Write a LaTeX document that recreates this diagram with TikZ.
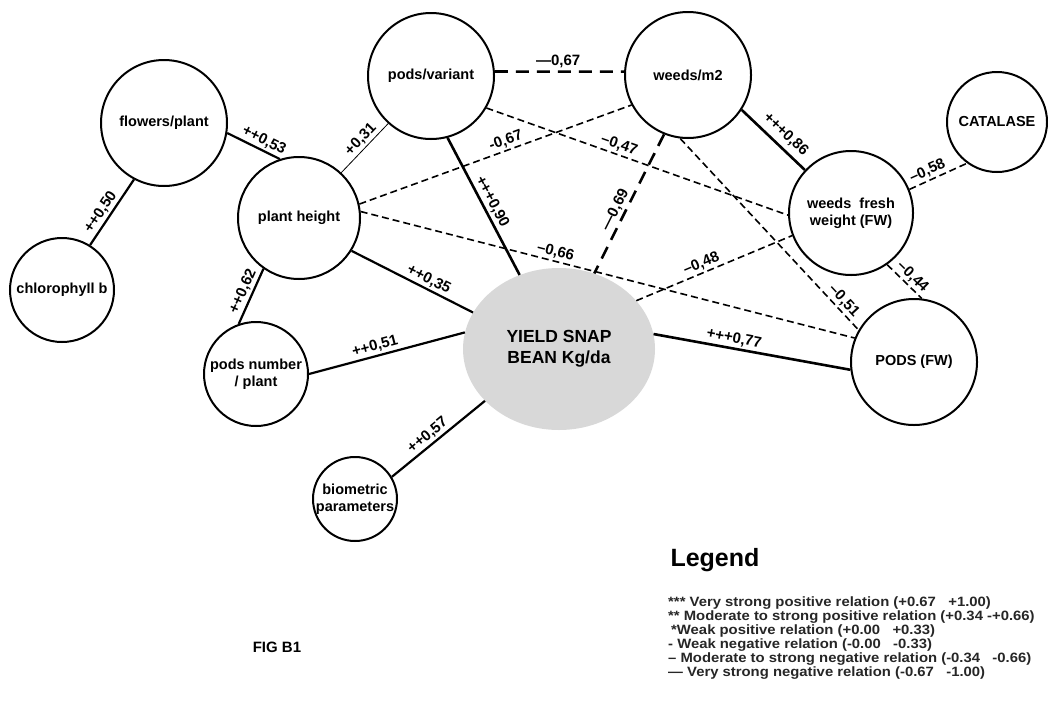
\documentclass[tikz,border=0pt]{standalone}
\usepackage{fontspec}
\setmainfont{Liberation Sans}
\newfontfamily\legendfont[FakeStretch=1.1]{Liberation Sans}
\usetikzlibrary{shapes.geometric, calc}

\definecolor{yieldgray}{RGB}{216,216,216}

\begin{document}
\begin{tikzpicture}[
    x=1pt, y=-1pt,
    var/.style={draw, circle, line width=2pt, inner sep=0pt, align=center, font=\fontsize{14.5}{17}\selectfont\bfseries},
    yield/.style={ellipse, fill=yieldgray, inner sep=0pt, minimum width=192pt, minimum height=162pt, align=center, font=\fontsize{17.5}{21}\selectfont\bfseries},
    lbl/.style={sloped, above, inner sep=2pt, font=\fontsize{15}{17}\selectfont\bfseries},
    pos3/.style={line width=2.6pt},
    pos2/.style={line width=2.2pt},
    pos1/.style={line width=0.8pt},
    neg2/.style={line width=1.6pt, dash pattern=on 7pt off 4pt},
    neg3/.style={line width=2.6pt, dash pattern=on 13pt off 8pt}
]
    \useasboundingbox (0,0) rectangle (1048,707);

    % Variables
    \node[yield] (yield) at (559,349) {YIELD SNAP\\BEAN Kg/da};
    \node[var, minimum size=126pt] (flowers) at (164,123) {flowers/plant};
    \node[var, minimum size=104pt] (chl) at (62,290) {chlorophyll b};
    \node[var, minimum size=122pt] (ph) at (299,218) {plant height};
    \node[var, minimum size=104pt] (pn) at (256,374) {pods number\\/ plant};
    \node[var, minimum size=84pt] (bio) at (355,499) {biometric\\parameters};
    \node[var, minimum size=126pt] (pv) at (431,76) {pods/variant};
    \node[var, minimum size=126pt] (wm) at (688,75) {weeds/m2};
    \node[var, minimum size=100pt] (cat) at (997,122) {CATALASE};
    \node[var, minimum size=124pt] (wfw) at (851,213) {weeds\ \ fresh\\weight (FW)};
    \node[var, minimum size=126pt] (pfw) at (914,362) {PODS (FW)};

    % Positive relations
    \draw[pos2] (chl.58) -- node[lbl, pos=0.42] (r1) {++0,50} (flowers.242);
    \draw[pos2] (flowers.-9) -- node[lbl, pos=0.62] (r2) {++0,53} (ph.108);
    \draw[pos1] (ph.47) -- node[lbl, pos=0.55] (r3) {+0,31} (pv.228);
    \draw[pos2] (pn.109) -- node[lbl, pos=0.52] (r4) {++0,62} (ph.235);
    \draw[pos2] (ph.-32) -- node[lbl, pos=0.6] (r5) {++0,35} (yield.157);
    \draw[pos2] (pn.0) -- node[lbl, pos=0.44] (r6) {++0,51} (yield.170);
    \draw[pos2] (bio.31) -- node[lbl, pos=0.45] (r7) {++0,57} (yield.215);
    \draw[pos3] (pv.-75) -- node[lbl, pos=0.5] (r8) {+++0,90} (yield.118);
    \draw[pos3] (wm.-33) -- node[lbl, pos=0.56, above=3pt] (r9) {+++0,86} (wfw.137);
    \draw[pos3] (yield.9.5) -- node[lbl, pos=0.4] (r10) {+++0,77} (pfw.187);

    % Negative relations
    \draw[neg3] (pv.4) -- node[lbl, pos=0.49] (n1) {—0,67} (wm.177);
    \draw[neg2] (ph.13) -- node[lbl, pos=0.55] (n2) {-0,67} (wm.208);
    \draw[neg2] (pv.-30) -- node[lbl, pos=0.43] (n3) {–0,47} (wfw.182);
    \draw[neg2] (ph.6) -- node[lbl, pos=0.39] (n4) {–0,66} (pfw.158);
    \draw[neg3] (wm.248) -- node[lbl, pos=0.575] (n5) {—0,69} (yield.65);
    \draw[neg2] (wm.263) -- node[lbl, pos=0.88] (n6) {–0,51} (pfw.150);
    \draw[neg2] (yield.32) -- node[lbl, pos=0.44] (n7) {–0,48} (wfw.201);
    \draw[neg2] (wfw.22) -- node[lbl, pos=0.38] (n8) {–0,58} (cat.234);
    \draw[neg2] (wfw.-55) -- node[lbl, pos=0.55] (n9) {–0,44} (pfw.83);

    % Legend
    \node[anchor=west, font=\fontsize{25}{28}\selectfont\bfseries] (legend) at (667,560) {Legend};
    \node[anchor=north west, inner sep=0pt, align=left, text=black!85, font=\legendfont\fontsize{13.5}{14}\selectfont\bfseries] (keys) at (668,597) {
        *** Very strong positive relation (+0.67~~~+1.00)\\
        ** Moderate to strong positive relation (+0.34 -+0.66)\\
        \hspace{3pt}*Weak positive relation (+0.00~~~+0.33)\\
        - Weak negative relation (-0.00~~~-0.33)\\
        – Moderate to strong negative relation (-0.34~~~-0.66)\\
        — Very strong negative relation (-0.67~~~-1.00)
    };
    \node[font=\fontsize{15}{18}\selectfont\bfseries] (fig) at (277,647) {FIG B1};
\end{tikzpicture}
\end{document}
